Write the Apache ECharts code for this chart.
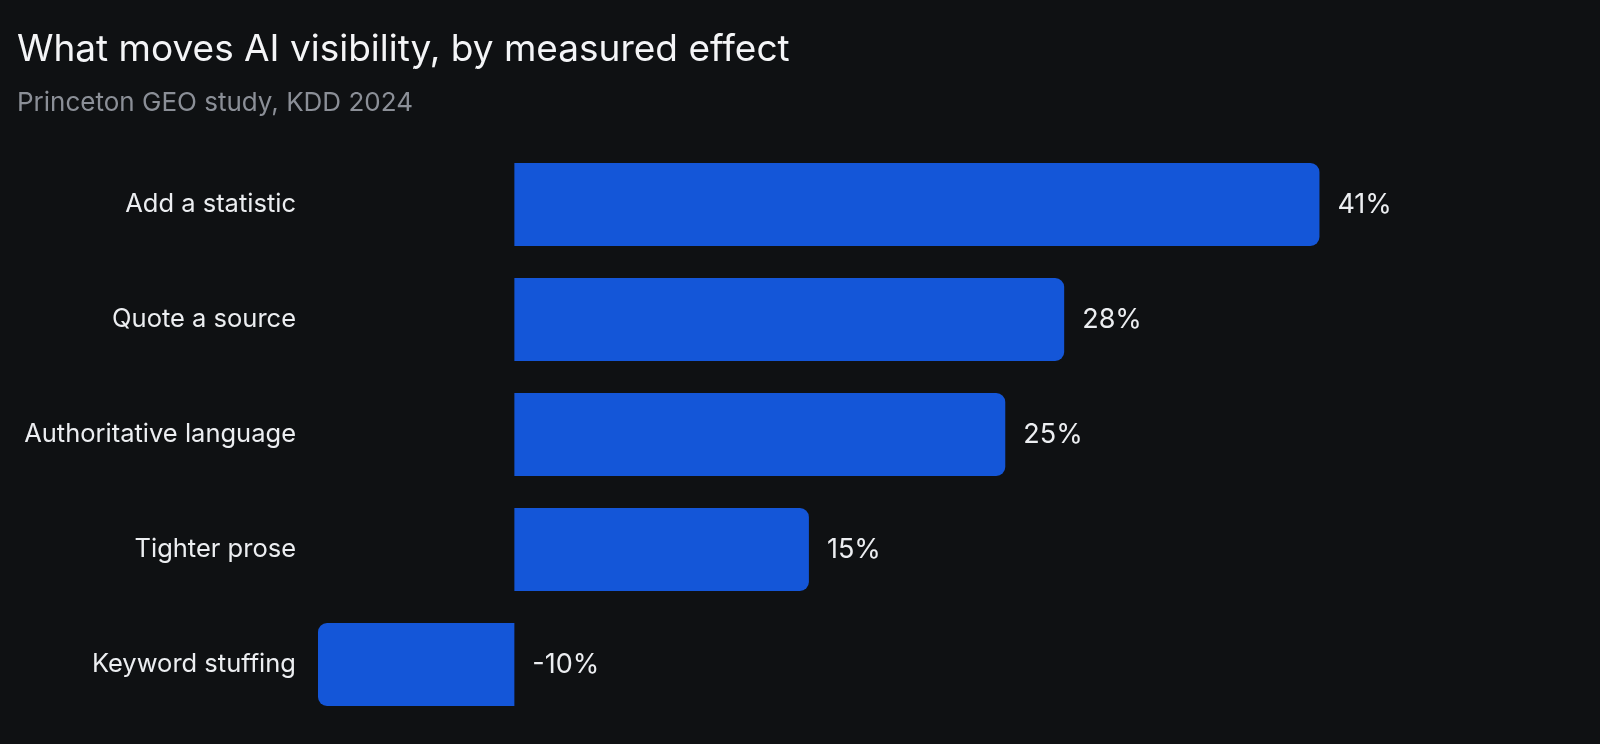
<!DOCTYPE html>
<html>
<head>
<meta charset="utf-8">
<script src="https://cdn.jsdelivr.net/npm/echarts@6/dist/echarts.min.js"></script>
<style>
  html, body { margin: 0; padding: 0; background: #0f1113; }
  #chart { width: 1600px; height: 744px; }
</style>
</head>
<body>
<div id="chart"></div>
<script>
const categories = ['Add a statistic', 'Quote a source', 'Authoritative language', 'Tighter prose', 'Keyword stuffing'];
const effects = [41, 28, 25, 15, -10];

const chart = echarts.init(document.getElementById('chart'));

// rounded corners only on the outer end of each bar
const barData = effects.map((v) => ({
    value: v,
    itemStyle: { borderRadius: v >= 0 ? [0, 9, 9, 0] : [9, 0, 0, 9] }
}));

chart.setOption({
    backgroundColor: '#0f1113',
    textStyle: { fontFamily: 'Inter' },
    title: {
        text: 'What moves AI visibility, by measured effect',
        subtext: 'Princeton GEO study, KDD 2024',
        left: 12,
        top: 26,
        itemGap: 22,
        textStyle: { color: '#f4f5f7', fontSize: 37, fontWeight: 'normal', fontFamily: 'Inter' },
        subtextStyle: { color: '#8b8f97', fontSize: 26, fontFamily: 'Inter' }
    },
    grid: { left: 318, right: 202, top: 147, bottom: 22, containLabel: false },
    xAxis: {
        type: 'value',
        min: -10,
        max: 45,
        show: false
    },
    yAxis: {
        type: 'category',
        data: categories,
        inverse: true,
        axisLine: { show: false },
        axisTick: { show: false },
        axisLabel: { color: '#eceef1', fontSize: 25.5, margin: 22 }
    },
    series: [{
        type: 'bar',
        data: barData,
        barWidth: 83,
        itemStyle: { color: '#1456d8' },
        label: {
            show: true,
            position: 'right',
            color: '#eceef1',
            fontSize: 27,
            distance: 18,
            formatter: (p) => p.value + '%'
        }
    }]
});
</script>
</body>
</html>
